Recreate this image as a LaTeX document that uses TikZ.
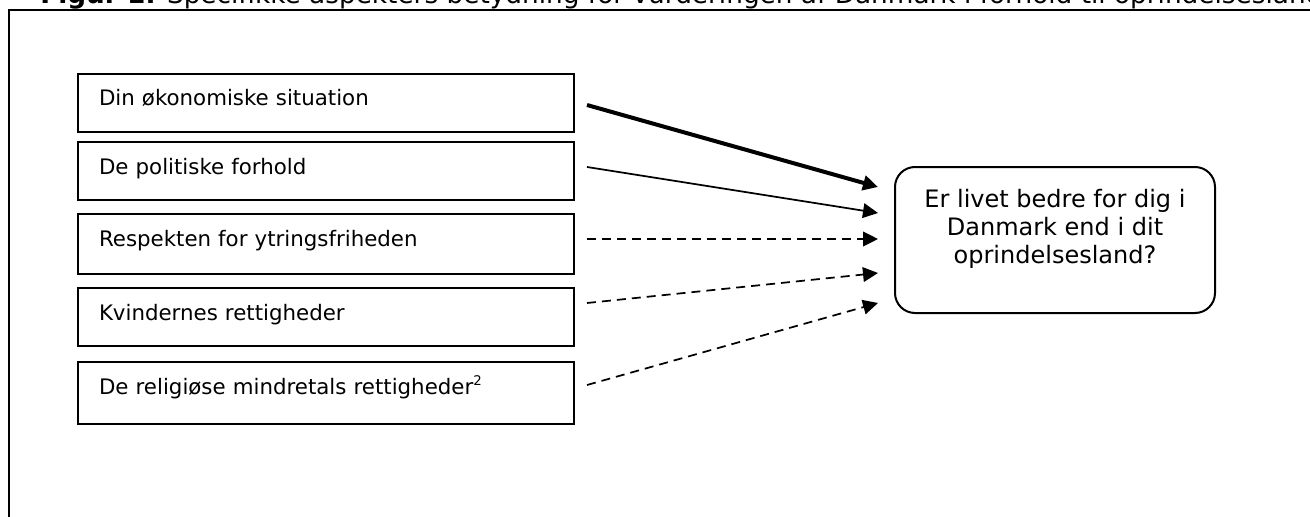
\documentclass[tikz,border=0pt]{standalone}
\usepackage{fontspec}
\setmainfont{DejaVu Sans}
\usetikzlibrary{arrows.meta}
\begin{document}
\begin{tikzpicture}[x=0.75pt,y=-0.75pt,
  txt/.style={font=\fontsize{16}{21}\selectfont},
  factor/.style={txt,draw,line width=1.5pt,anchor=north west,inner xsep=15.75pt,inner ysep=0pt,
    text width=340.5pt,align=left,text height=24pt,text depth=19.5pt},
  qbox/.style={draw,line width=1.5pt,rounded corners=15pt,minimum width=240pt,minimum height=109.5pt,inner sep=0pt},
  qtext/.style={font=\fontsize{18}{21}\selectfont,align=center,inner sep=0pt},
  tip/.style={-{Triangle[length=11.25pt,width=11pt]}},
  strong/.style={tip,line width=3pt},
  medium/.style={tip,line width=1.3pt},
  weak/.style={tip,line width=1.3pt,dash pattern=on 6.75pt off 4.5pt},
  frame/.style={line width=1.5pt}]
\useasboundingbox (0,0) rectangle (1310,517);
\fill[white] (0,0) rectangle (1310,517);
\node[font=\fontsize{19.75}{24}\selectfont,anchor=base west,inner sep=0pt] (title) at (40,4) {\textbf{Figur 1:} Specifikke aspekters betydning for vurderingen af Danmark i forhold til oprindelsesland};
\draw[frame] (9,530) -- (9,10) -- (1330,10);
\node[factor] (b1) at (77,73) {Din økonomiske situation};
\node[factor] (b2) at (77,141) {De politiske forhold};
\node[factor,text depth=21pt] (b3) at (77,213) {Respekten for ytringsfriheden};
\node[factor] (b4) at (77,287) {Kvindernes rettigheder};
\node[factor,text depth=22.5pt] (b5) at (77,361) {De religiøse mindretals rettigheder\textsuperscript{\fontsize{10}{10}\selectfont 2}};
\node[qbox] (q) at (1055,240) {};
\node[qtext] (qt) at (1055,228.8) {Er livet bedre for dig i\\Danmark end i dit\\oprindelsesland?};
\coordinate (s1) at (587,105); \coordinate (t1) at (878,187);
\coordinate (s2) at (587,167); \coordinate (t2) at (878,213);
\coordinate (s3) at (587,239); \coordinate (t3) at (878,239);
\coordinate (s4) at (587,303); \coordinate (t4) at (878,273);
\coordinate (s5) at (587,385); \coordinate (t5) at (878,303);
\draw[strong] (s1) -- (t1);
\draw[medium] (s2) -- (t2);
\draw[weak] (s3) -- (t3);
\draw[weak] (s4) -- (t4);
\draw[weak] (s5) -- (t5);
\end{tikzpicture}
\end{document}
